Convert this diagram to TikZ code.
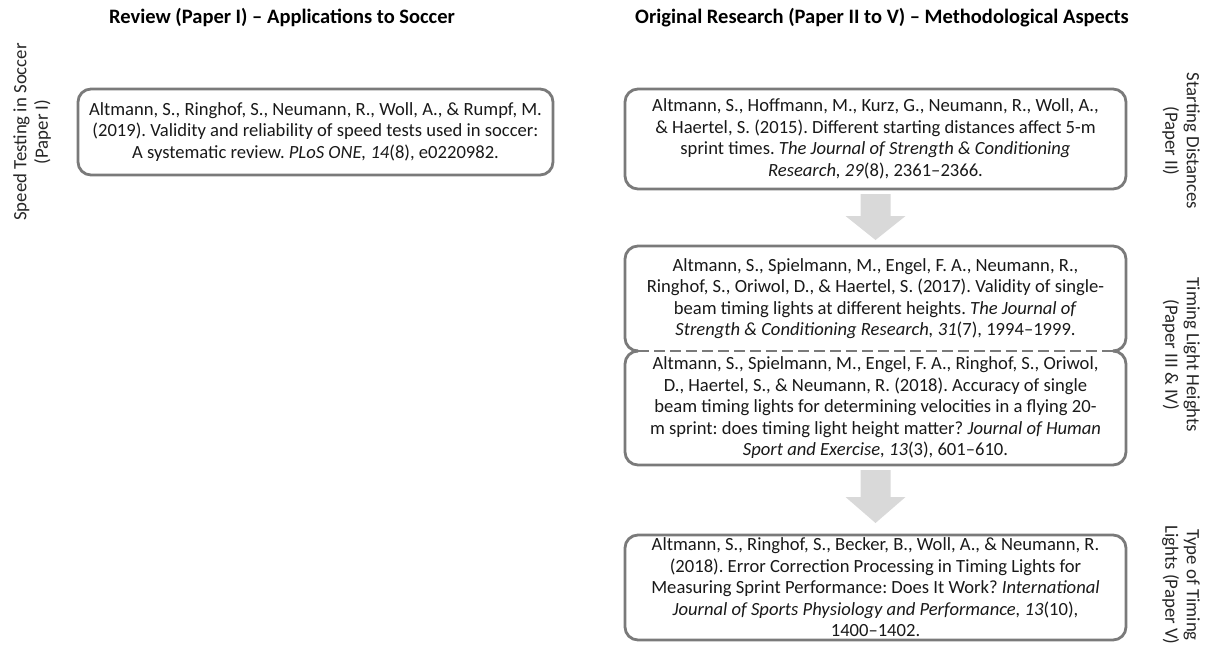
\documentclass[tikz,border=0pt]{standalone}
\usepackage{fontspec}
\setmainfont{Carlito}
\usetikzlibrary{calc}

\begin{document}
\frenchspacing
\begin{tikzpicture}[x=1pt, y=-1pt,
  every node/.style={inner sep=0pt, outer sep=0pt},
  body/.style={font=\fontsize{18.6}{21.5}\selectfont, align=center,
    minimum width=501pt, text=black!90},
  refbox/.style={body, draw=black!52, line width=2.8pt, rounded corners=13pt},
  boxline/.style={draw=black!52, line width=2.8pt},
  headline/.style={font=\fontsize{20.5}{24}\selectfont\bfseries, text=black},
  sidelabel/.style={font=\fontsize{18.8}{21.5}\selectfont, align=center, text=black!85},
  blockarrow/.style={fill=black!15, draw=none}
]
\useasboundingbox (0,0) rectangle (1207,646);

% column headings
\node[headline] (hleft) at (282,18) {Review (Paper I) -- Applications to Soccer};
\node[headline] (hright) at (882,18) {Original Research (Paper II to V) -- Methodological Aspects};

% review paper
\node[refbox, minimum width=475pt, minimum height=86pt] (rev) at (315.5,132)
  {Altmann, S., Ringhof, S., Neumann, R., Woll, A., \& Rumpf, M.\\
   (2019). Validity and reliability of speed tests used in soccer:\\
   A systematic review. \textit{PLoS ONE, 14}(8), e0220982.};
\node[sidelabel, rotate=90] (lrev) at (32,132) {Speed Testing in Soccer\\(Paper I)};

% paper II
\node[refbox, minimum height=100pt] (p2) at (875.5,139)
  {Altmann, S., Hoffmann, M., Kurz, G., Neumann, R., Woll, A.,\\
   \& Haertel, S. (2015). Different starting distances affect 5-m\\
   sprint times. \textit{The Journal of Strength \& Conditioning}\\
   \textit{Research, 29}(8), 2361--2366.};
\node[sidelabel, rotate=-90] (lp2) at (1181,141) {Starting Distances\\(Paper II)};

% papers III and IV share one split box
\node[body, minimum height=105pt] (p3) at (875.5,298.5)
  {Altmann, S., Spielmann, M., Engel, F. A., Neumann, R.,\\
   Ringhof, S., Oriwol, D., \& Haertel, S. (2017). Validity of single-\\
   beam timing lights at different heights. \textit{The Journal of}\\
   \textit{Strength \& Conditioning Research, 31}(7), 1994--1999.};
\node[body, minimum height=114pt, anchor=north] (p4) at (p3.south)
  {Altmann, S., Spielmann, M., Engel, F. A., Ringhof, S., Oriwol,\\
   D., Haertel, S., \& Neumann, R. (2018). Accuracy of single\\
   beam timing lights for determining velocities in a flying 20-\\
   m sprint: does timing light height matter? \textit{Journal of Human}\\
   \textit{Sport and Exercise, 13}(3), 601--610.};
\draw[boxline, rounded corners=13pt]
  ([xshift=13pt]p3.south west) -- (p3.south west) -- (p3.north west)
  -- (p3.north east) -- (p3.south east) -- ([xshift=-13pt]p3.south east);
\draw[boxline, rounded corners=13pt]
  ([xshift=13pt]p4.north west) -- (p4.north west) -- (p4.south west)
  -- (p4.south east) -- (p4.north east) -- ([xshift=-13pt]p4.north east);
\draw[boxline, dash pattern=on 11pt off 5pt]
  ([xshift=13pt]p3.south west) -- ([xshift=-13pt]p3.south east);
\node[sidelabel, rotate=-90] (lp3) at (1181,355) {Timing Light Heights\\(Paper III \& IV)};

% paper V
\node[refbox, minimum height=105pt] (p5) at (875.5,587.5)
  {Altmann, S., Ringhof, S., Becker, B., Woll, A., \& Neumann, R.\\
   (2018). Error Correction Processing in Timing Lights for\\
   Measuring Sprint Performance: Does It Work? \textit{International}\\
   \textit{Journal of Sports Physiology and Performance, 13}(10),\\
   1400--1402.};
\node[sidelabel, rotate=-90] (lp5) at (1181,585) {Type of Timing\\Lights (Paper V)};

% block arrows between the boxes
\fill[blockarrow]
  ($(p2.south)+(-15,5)$) -- ($(p2.south)+(15,5)$)
  -- ($(p3.north)+(15,-30)$) -- ($(p3.north)+(30,-30)$)
  -- ($(p3.north)+(0,-6)$)
  -- ($(p3.north)+(-30,-30)$) -- ($(p3.north)+(-15,-30)$) -- cycle;
\fill[blockarrow]
  ($(p4.south)+(-15,5)$) -- ($(p4.south)+(15,5)$)
  -- ($(p5.north)+(15,-38)$) -- ($(p5.north)+(30,-38)$)
  -- ($(p5.north)+(0,-12)$)
  -- ($(p5.north)+(-30,-38)$) -- ($(p5.north)+(-15,-38)$) -- cycle;
\end{tikzpicture}
\end{document}
